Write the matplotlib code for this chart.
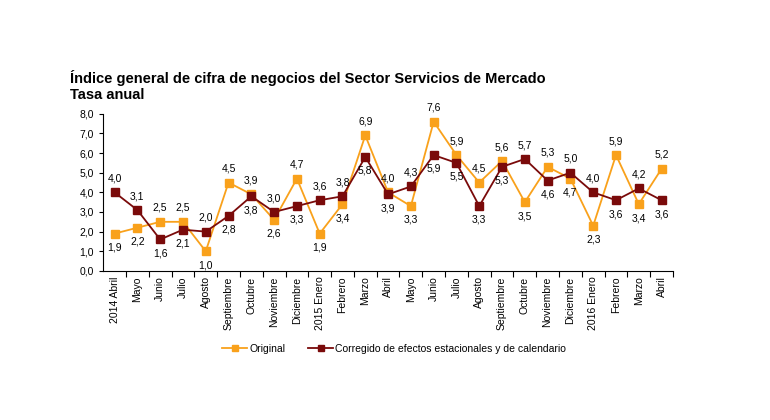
import matplotlib.pyplot as plt
from matplotlib.ticker import FixedLocator

plt.rcParams['font.family'] = ['Liberation Sans', 'DejaVu Sans']

months = ['2014 Abril', 'Mayo', 'Junio', 'Julio', 'Agosto', 'Septiembre', 'Octubre',
          'Noviembre', 'Diciembre', '2015 Enero', 'Febrero', 'Marzo', 'Abril', 'Mayo',
          'Junio', 'Julio', 'Agosto', 'Septiembre', 'Octubre', 'Noviembre', 'Diciembre',
          '2016 Enero', 'Febrero', 'Marzo', 'Abril']

original = [1.9, 2.2, 2.5, 2.5, 1.0, 4.5, 3.9, 2.6, 4.7, 1.9, 3.4, 6.9, 4.0, 3.3,
            7.6, 5.9, 4.5, 5.6, 3.5, 5.3, 4.7, 2.3, 5.9, 3.4, 5.2]
corregido = [4.0, 3.1, 1.6, 2.1, 2.0, 2.8, 3.8, 3.0, 3.3, 3.6, 3.8, 5.8, 3.9, 4.3,
             5.9, 5.5, 3.3, 5.3, 5.7, 4.6, 5.0, 4.0, 3.6, 4.2, 3.6]

# label placement: 1 = above the marker, -1 = below
pos_orig = [-1, -1, 1, 1, -1, 1, 1, -1, 1, -1, -1, 1, 1, -1, 1, 1, 1, 1, -1, 1, -1, -1, 1, -1, 1]
pos_corr = [1, 1, -1, -1, 1, -1, -1, 1, -1, 1, 1, -1, -1, 1, -1, -1, -1, -1, 1, -1, 1, 1, -1, 1, -1]

c_orig = '#F9A11B'
c_corr = '#7A0A0A'

fig = plt.figure(figsize=(7.7, 4.2), dpi=100)
ax = fig.add_axes([0.134, 0.355, 0.74, 0.374])

x = list(range(len(months)))
ax.plot(x, original, color=c_orig, lw=1.3, marker='s', ms=6, label='Original')
ax.plot(x, corregido, color=c_corr, lw=1.3, marker='s', ms=6,
        label='Corregido de efectos estacionales y de calendario')

def fmt(v):
    return f'{v:.1f}'.replace('.', ',')

for xi, v, p in zip(x, original, pos_orig):
    ax.annotate(fmt(v), (xi, v), xytext=(0, 10 * p), textcoords='offset points',
                ha='center', va='center', fontsize=7.5)
for xi, v, p in zip(x, corregido, pos_corr):
    ax.annotate(fmt(v), (xi, v), xytext=(0, 10 * p), textcoords='offset points',
                ha='center', va='center', fontsize=7.5)

ax.set_xlim(-0.5, len(months) - 0.5)
ax.set_ylim(0, 8)
ax.set_yticks([i for i in range(9)])
ax.set_yticklabels([fmt(i) for i in range(9)], fontsize=7.5)
ax.set_xticks(x)
ax.set_xticklabels(months, rotation=90, fontsize=7.5)
ax.tick_params(axis='x', which='major', length=0, pad=4)
ax.xaxis.set_minor_locator(FixedLocator([i + 0.5 for i in range(len(months))]))
ax.tick_params(axis='x', which='minor', length=4, width=0.8)
ax.tick_params(axis='y', length=3, width=0.8)
ax.spines['top'].set_visible(False)
ax.spines['right'].set_visible(False)

fig.text(0.091, 0.815, 'Índice general de cifra de negocios del Sector Servicios de Mercado',
         fontsize=10.5, fontweight='bold', va='center')
fig.text(0.091, 0.774, 'Tasa anual', fontsize=10.5, fontweight='bold', va='center')

fig.legend(loc='center', bbox_to_anchor=(0.512, 0.169), ncol=2, frameon=False,
           fontsize=7.5, handlelength=2.4, handletextpad=0.2, columnspacing=2.2,
           markerscale=0.8)

fig.savefig('out.png', dpi=100)
